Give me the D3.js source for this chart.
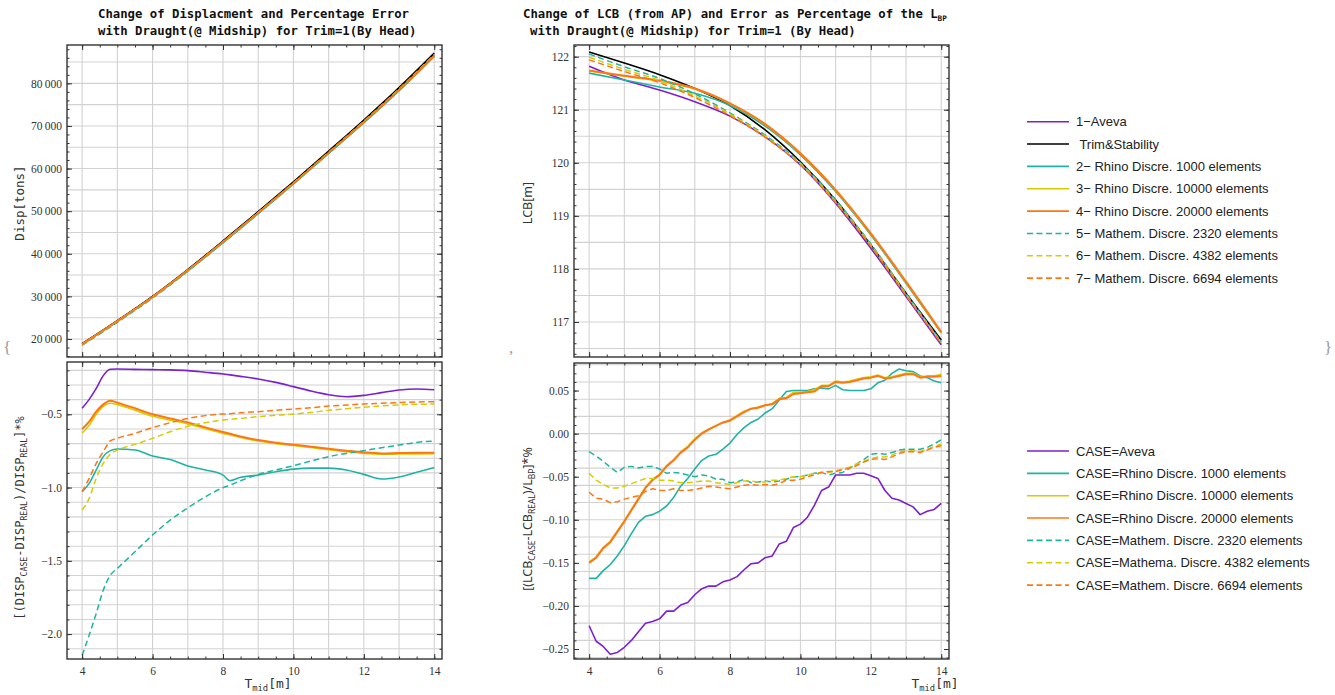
<!DOCTYPE html>
<html>
<head>
<meta charset="utf-8">
<script src="https://cdn.jsdelivr.net/npm/d3@7"></script>
<style>
  body { margin: 0; background: #fff; }
  svg { display: block; }
  .ticklabel { font-family: 'Liberation Serif', 'DejaVu Serif', serif; font-size: 11.5px; }
</style>
</head>
<body>
<svg id="chart" width="1335" height="695"></svg>
<script>
// ---------- Data ----------
// Draught at midship [m] for the displacement error curves
const draughtD = [4, 4.2, 4.4, 4.6, 4.8, 5, 5.5, 6, 6.5, 7, 7.5, 8, 8.2, 8.5, 9, 9.5, 10, 10.5, 11, 11.5, 12, 12.5, 13, 13.5, 14];

// Percentage error of displacement against Trim&Stability
const errDispAveva      = [-0.459, -0.398, -0.323, -0.236, -0.193, -0.191, -0.193, -0.195, -0.197, -0.202, -0.213, -0.225, -0.231, -0.241, -0.259, -0.282, -0.311, -0.341, -0.366, -0.380, -0.371, -0.352, -0.334, -0.327, -0.332];
const errDispRhino1000  = [-1.028, -0.971, -0.880, -0.789, -0.748, -0.737, -0.744, -0.785, -0.808, -0.853, -0.880, -0.915, -0.953, -0.930, -0.915, -0.892, -0.874, -0.867, -0.867, -0.880, -0.910, -0.942, -0.928, -0.896, -0.864];
const errDispRhino10000 = [-0.628, -0.575, -0.500, -0.445, -0.425, -0.434, -0.472, -0.513, -0.540, -0.566, -0.598, -0.630, -0.641, -0.658, -0.682, -0.700, -0.713, -0.727, -0.741, -0.755, -0.767, -0.772, -0.771, -0.770, -0.768];
const errDispRhino20000 = [-0.600, -0.550, -0.482, -0.432, -0.407, -0.420, -0.459, -0.500, -0.528, -0.555, -0.589, -0.621, -0.633, -0.651, -0.676, -0.694, -0.707, -0.721, -0.735, -0.748, -0.760, -0.767, -0.764, -0.762, -0.762];
const errDispMath2320   = [-2.144, -2.007, -1.859, -1.700, -1.598, -1.552, -1.438, -1.324, -1.222, -1.138, -1.063, -1.001, -0.983, -0.953, -0.910, -0.880, -0.851, -0.819, -0.789, -0.767, -0.748, -0.728, -0.710, -0.692, -0.682];
const errDispMath4382   = [-1.154, -1.074, -0.937, -0.835, -0.773, -0.744, -0.705, -0.664, -0.619, -0.582, -0.557, -0.539, -0.534, -0.528, -0.516, -0.507, -0.498, -0.487, -0.473, -0.462, -0.452, -0.443, -0.436, -0.432, -0.430];
const errDispMath6694   = [-1.028, -0.937, -0.835, -0.755, -0.682, -0.664, -0.630, -0.591, -0.557, -0.528, -0.509, -0.498, -0.496, -0.489, -0.482, -0.473, -0.464, -0.455, -0.443, -0.437, -0.430, -0.425, -0.420, -0.416, -0.414];

// Displacement [tons] from Trim&Stability at whole-metre draughts
const draughtM = [4, 5, 6, 7, 8, 9, 10, 11, 12, 13, 14];
const dispReal = [18900, 24300, 30000, 36300, 43000, 49900, 56900, 64100, 71400, 79000, 87100];

// LCB from AP [m]
const lcbReal       = [122.09, 121.88, 121.66, 121.40, 121.08, 120.62, 120.02, 119.30, 118.45, 117.54, 116.66];
const lcbAveva      = [121.82, 121.56, 121.37, 121.15, 120.88, 120.49, 119.96, 119.24, 118.39, 117.48, 116.57];
const lcbRhino1000  = [121.69, 121.56, 121.43, 121.31, 121.08, 120.69, 120.15, 119.46, 118.64, 117.73, 116.79];
const lcbRhino10000 = [121.73, 121.63, 121.54, 121.39, 121.11, 120.72, 120.17, 119.48, 118.66, 117.75, 116.80];
const lcbRhino20000 = [121.74, 121.64, 121.55, 121.40, 121.12, 120.73, 120.18, 119.49, 118.67, 117.76, 116.81];
const lcbMath2320   = [122.05, 121.81, 121.59, 121.30, 120.94, 120.52, 120.00, 119.30, 118.47, 117.54, 116.63];
const lcbMath4382   = [121.99, 121.76, 121.55, 121.26, 120.92, 120.50, 119.98, 119.27, 118.45, 117.52, 116.61];
const lcbMath6694   = [121.94, 121.72, 121.51, 121.23, 120.89, 120.48, 119.96, 119.25, 118.43, 117.50, 116.60];

// LCB error as percentage of L_BP, every 0.2 m of draught
const draughtL = [4, 4.2, 4.4, 4.6, 4.8, 5, 5.2, 5.4, 5.6, 5.8, 6, 6.2, 6.4, 6.6, 6.8, 7, 7.2, 7.4, 7.6, 7.8, 8, 8.2, 8.4, 8.6, 8.8, 9, 9.2, 9.4, 9.6, 9.8, 10, 10.2, 10.4, 10.6, 10.8, 11, 11.2, 11.4, 11.6, 11.8, 12, 12.2, 12.4, 12.6, 12.8, 13, 13.2, 13.4, 13.6, 13.8, 14];
const errLcbAveva = [-0.223, -0.241, -0.247, -0.256, -0.254, -0.248, -0.240, -0.230, -0.220, -0.218, -0.215, -0.206, -0.206, -0.199, -0.196, -0.187, -0.180, -0.177, -0.177, -0.172, -0.170, -0.166, -0.158, -0.151, -0.150, -0.144, -0.142, -0.128, -0.125, -0.109, -0.105, -0.097, -0.083, -0.066, -0.062, -0.048, -0.048, -0.048, -0.046, -0.046, -0.049, -0.052, -0.066, -0.075, -0.077, -0.081, -0.085, -0.094, -0.090, -0.088, -0.081];
const errLcbRhino1000 = [-0.168, -0.168, -0.159, -0.152, -0.142, -0.130, -0.116, -0.103, -0.096, -0.094, -0.090, -0.084, -0.074, -0.061, -0.052, -0.041, -0.031, -0.026, -0.024, -0.018, -0.011, -0.001, 0.007, 0.013, 0.017, 0.024, 0.029, 0.039, 0.049, 0.050, 0.050, 0.050, 0.052, 0.053, 0.052, 0.056, 0.051, 0.050, 0.050, 0.050, 0.052, 0.059, 0.062, 0.070, 0.075, 0.073, 0.072, 0.067, 0.065, 0.061, 0.059];
const errLcbRhino10000 = [-0.149, -0.143, -0.132, -0.125, -0.113, -0.101, -0.088, -0.075, -0.062, -0.053, -0.047, -0.037, -0.030, -0.021, -0.015, -0.006, 0.001, 0.005, 0.009, 0.013, 0.016, 0.021, 0.026, 0.029, 0.031, 0.033, 0.035, 0.041, 0.042, 0.048, 0.048, 0.049, 0.051, 0.056, 0.056, 0.061, 0.060, 0.061, 0.063, 0.065, 0.066, 0.068, 0.065, 0.066, 0.068, 0.070, 0.070, 0.066, 0.067, 0.067, 0.069];
const errLcbRhino20000 = [-0.150, -0.144, -0.133, -0.126, -0.114, -0.102, -0.089, -0.076, -0.063, -0.054, -0.048, -0.038, -0.031, -0.022, -0.016, -0.007, 0.000, 0.005, 0.009, 0.013, 0.015, 0.020, 0.025, 0.029, 0.030, 0.033, 0.034, 0.040, 0.041, 0.046, 0.047, 0.048, 0.049, 0.055, 0.055, 0.060, 0.059, 0.060, 0.062, 0.064, 0.065, 0.067, 0.064, 0.065, 0.067, 0.069, 0.069, 0.065, 0.066, 0.066, 0.067];
const errLcbMath2320 = [-0.021, -0.026, -0.032, -0.039, -0.045, -0.039, -0.038, -0.040, -0.038, -0.038, -0.041, -0.046, -0.045, -0.046, -0.048, -0.050, -0.048, -0.049, -0.053, -0.053, -0.057, -0.056, -0.053, -0.057, -0.056, -0.055, -0.056, -0.055, -0.053, -0.050, -0.050, -0.048, -0.046, -0.045, -0.048, -0.046, -0.045, -0.040, -0.035, -0.030, -0.024, -0.023, -0.024, -0.022, -0.019, -0.018, -0.018, -0.018, -0.016, -0.012, -0.007];
const errLcbMath4382 = [-0.046, -0.054, -0.059, -0.063, -0.063, -0.061, -0.058, -0.055, -0.052, -0.052, -0.054, -0.054, -0.055, -0.057, -0.057, -0.056, -0.055, -0.055, -0.057, -0.058, -0.059, -0.057, -0.055, -0.055, -0.056, -0.056, -0.054, -0.054, -0.052, -0.050, -0.050, -0.048, -0.046, -0.045, -0.045, -0.043, -0.041, -0.039, -0.035, -0.032, -0.029, -0.027, -0.027, -0.025, -0.021, -0.020, -0.020, -0.021, -0.018, -0.015, -0.012];
const errLcbMath6694 = [-0.068, -0.075, -0.076, -0.080, -0.079, -0.076, -0.074, -0.072, -0.067, -0.064, -0.066, -0.066, -0.064, -0.066, -0.066, -0.065, -0.063, -0.061, -0.062, -0.063, -0.064, -0.062, -0.060, -0.059, -0.060, -0.059, -0.060, -0.058, -0.054, -0.054, -0.053, -0.050, -0.048, -0.045, -0.044, -0.044, -0.042, -0.040, -0.037, -0.033, -0.030, -0.029, -0.030, -0.027, -0.023, -0.021, -0.021, -0.022, -0.019, -0.016, -0.014];

// Tick labels
const draughtTicks = [4, 6, 8, 10, 12, 14];
const dispTicks = [20000, 30000, 40000, 50000, 60000, 70000, 80000];
const errDispTicks = [-2.0, -1.5, -1.0, -0.5];
const lcbTicks = [117, 118, 119, 120, 121, 122];
const errLcbTicks = [-0.25, -0.20, -0.15, -0.10, -0.05, 0.00, 0.05];

// Legend texts
const legendTop = ["1\u2212Aveva", " Trim&Stability", "2\u2212 Rhino Discre. 1000 elements", "3\u2212 Rhino Discre. 10000 elements",
  "4\u2212 Rhino Discre. 20000 elements", "5\u2212 Mathem. Discre. 2320 elements", "6\u2212 Mathem. Discre. 4382 elements", "7\u2212 Mathem. Discre. 6694 elements"];
const legendBottom = ["CASE=Aveva", "CASE=Rhino Discre. 1000 elements", "CASE=Rhino Discre. 10000 elements", "CASE=Rhino Discre. 20000 elements",
  "CASE=Mathem. Discre. 2320 elements", "CASE=Mathema. Discre. 4382 elements", "CASE=Mathem. Discre. 6694 elements"];

// ---------- Styles ----------
const C = { purple: "#7b1fd0", black: "#000000", teal: "#1fb3a3", yellow: "#d6cc00", orange: "#ff7614" };
const styleAveva = { color: C.purple, dash: null, width: 1.6 };
const styleReal  = { color: C.black,  dash: null, width: 1.6 };
const styleR1000 = { color: C.teal,   dash: null, width: 1.6 };
const styleR10000 = { color: C.yellow, dash: null, width: 1.6 };
const styleR20000 = { color: C.orange, dash: null, width: 2.0 };
const styleM2320 = { color: C.teal,   dash: "6,3.5", width: 1.5 };
const styleM4382 = { color: C.yellow, dash: "6,3.5", width: 1.5 };
const styleM6694 = { color: C.orange, dash: "6,3.5", width: 1.5 };

const serif = "'Liberation Serif', 'DejaVu Serif', serif";
const mono = "'DejaVu Sans Mono', monospace";
const sans = "'Liberation Sans', Arial, sans-serif";
const labelSans = "'Noto Sans', 'Open Sans', sans-serif";

const svg = d3.select("#chart");
svg.append("rect").attr("width", 1335).attr("height", 695).attr("fill", "#fff");

const xDomain = [3.57, 14.22];
const xGrid = d3.range(4, 15);
const xMinor = d3.range(8, 29).map(k => k / 2);
const minusFmt = p => d => d3.format("." + p + "f")(d).replace("-", "\u2212");
let clipId = 0;

function panel(o) {
  const x = d3.scaleLinear().domain(xDomain).range([o.x0, o.x1]);
  const y = d3.scaleLinear().domain(o.yDomain).range([o.y1, o.y0]);
  const g = svg.append("g");

  // grid
  g.append("g").selectAll("line").data(xGrid).join("line")
    .attr("x1", d => x(d)).attr("x2", d => x(d)).attr("y1", o.y0).attr("y2", o.y1)
    .attr("stroke", "#d2d2d2").attr("stroke-width", 1.1);
  g.append("g").selectAll("line").data(o.yGrid).join("line")
    .attr("x1", o.x0).attr("x2", o.x1).attr("y1", d => y(d)).attr("y2", d => y(d))
    .attr("stroke", "#d2d2d2").attr("stroke-width", 1.1);

  // series
  const id = "clip" + (clipId++);
  svg.append("clipPath").attr("id", id).append("rect")
    .attr("x", o.x0).attr("y", o.y0).attr("width", o.x1 - o.x0).attr("height", o.y1 - o.y0);
  const lines = g.append("g").attr("clip-path", `url(#${id})`);
  const line = d3.line().x(d => x(d[0])).y(d => y(d[1])).curve(o.curve || d3.curveLinear);
  o.series.forEach(s => {
    lines.append("path").datum(s.points).attr("d", line)
      .attr("fill", "none").attr("stroke", s.style.color).attr("stroke-width", s.style.width)
      .attr("stroke-dasharray", s.style.dash).attr("stroke-linejoin", "round");
  });

  // frame ticks (inward) on all four sides
  const tickStyle = sel => {
    sel.select(".domain").remove();
    sel.attr("font-family", null).attr("font-size", null);
    sel.selectAll(".tick line").attr("stroke", "#333").attr("stroke-width", 1);
    sel.selectAll(".tick text").attr("fill", "#333").attr("class", "ticklabel");
  };
  g.append("g").attr("transform", `translate(${o.x0},0)`)
    .call(d3.axisLeft(y).tickValues(o.yMinor).tickSize(-2.5).tickFormat("")).call(tickStyle);
  g.append("g").attr("transform", `translate(${o.x0},0)`)
    .call(d3.axisLeft(y).tickValues(o.yTicks).tickSize(-5).tickPadding(5).tickFormat(o.yFmt)).call(tickStyle);
  g.append("g").attr("transform", `translate(${o.x1},0)`)
    .call(d3.axisRight(y).tickValues(o.yMinor).tickSize(-2.5).tickFormat("")).call(tickStyle);
  g.append("g").attr("transform", `translate(${o.x1},0)`)
    .call(d3.axisRight(y).tickValues(o.yTicks).tickSize(-5).tickFormat("")).call(tickStyle);
  g.append("g").attr("transform", `translate(0,${o.y0})`)
    .call(d3.axisTop(x).tickValues(xMinor).tickSize(-2.5).tickFormat("")).call(tickStyle);
  g.append("g").attr("transform", `translate(0,${o.y0})`)
    .call(d3.axisTop(x).tickValues(draughtTicks).tickSize(-5).tickFormat("")).call(tickStyle);
  g.append("g").attr("transform", `translate(0,${o.y1})`)
    .call(d3.axisBottom(x).tickValues(xMinor).tickSize(-2.5).tickFormat("")).call(tickStyle);
  g.append("g").attr("transform", `translate(0,${o.y1})`)
    .call(d3.axisBottom(x).tickValues(draughtTicks).tickSize(-5).tickPadding(8)
      .tickFormat(o.xLabels ? d3.format("d") : "")).call(tickStyle);

  // frame
  g.append("rect").attr("x", o.x0).attr("y", o.y0).attr("width", o.x1 - o.x0).attr("height", o.y1 - o.y0)
    .attr("fill", "none").attr("stroke", "#333").attr("stroke-width", 1.4);
  return g;
}

const zipPts = (xs, ys) => xs.map((t, i) => [t, ys[i]]);
// case displacement rebuilt from the reference displacement and its percentage error
const dispCase = err => draughtM.map((t, i) => [t, dispReal[i] * (1 + err[draughtD.indexOf(t)] / 100)]);

// ---------- Left column: displacement ----------
panel({
  x0: 67, x1: 442, y0: 45, y1: 357, yDomain: [15770, 89000],
  yGrid: d3.range(20000, 89000, 5000), yTicks: dispTicks, yMinor: d3.range(16000, 89000, 2000),
  yFmt: d => d3.format(",")(d).replace(",", "\u2009"), xLabels: false, curve: d3.curveMonotoneX,
  series: [
    { points: dispCase(errDispAveva), style: styleAveva },
    { points: zipPts(draughtM, dispReal), style: styleReal },
    { points: dispCase(errDispRhino1000), style: styleR1000 },
    { points: dispCase(errDispRhino10000), style: styleR10000 },
    { points: dispCase(errDispRhino20000), style: styleR20000 },
    { points: dispCase(errDispMath2320), style: styleM2320 },
    { points: dispCase(errDispMath4382), style: styleM4382 },
    { points: dispCase(errDispMath6694), style: styleM6694 }
  ]
});

panel({
  x0: 67, x1: 442, y0: 362, y1: 659, yDomain: [-2.17, -0.143],
  yGrid: d3.range(-21, -1).map(k => k / 10), yTicks: errDispTicks, yMinor: d3.range(-21, -1).map(k => k / 10),
  yFmt: minusFmt(1), xLabels: true, curve: d3.curveMonotoneX,
  series: [
    { points: zipPts(draughtD, errDispAveva), style: styleAveva },
    { points: zipPts(draughtD, errDispRhino1000), style: styleR1000 },
    { points: zipPts(draughtD, errDispRhino10000), style: styleR10000 },
    { points: zipPts(draughtD, errDispRhino20000), style: styleR20000 },
    { points: zipPts(draughtD, errDispMath2320), style: styleM2320 },
    { points: zipPts(draughtD, errDispMath4382), style: styleM4382 },
    { points: zipPts(draughtD, errDispMath6694), style: styleM6694 }
  ]
});

// ---------- Right column: LCB ----------
panel({
  x0: 574, x1: 949, y0: 45, y1: 357, yDomain: [116.34, 122.22],
  yGrid: d3.range(233, 245).map(k => k / 2), yTicks: lcbTicks, yMinor: d3.range(582, 612).map(k => k / 5),
  yFmt: d3.format("d"), xLabels: false, curve: d3.curveMonotoneX,
  series: [
    { points: zipPts(draughtM, lcbAveva), style: styleAveva },
    { points: zipPts(draughtM, lcbReal), style: styleReal },
    { points: zipPts(draughtM, lcbRhino1000), style: styleR1000 },
    { points: zipPts(draughtM, lcbRhino10000), style: styleR10000 },
    { points: zipPts(draughtM, lcbRhino20000), style: styleR20000 },
    { points: zipPts(draughtM, lcbMath2320), style: styleM2320 },
    { points: zipPts(draughtM, lcbMath4382), style: styleM4382 },
    { points: zipPts(draughtM, lcbMath6694), style: styleM6694 }
  ]
});

panel({
  x0: 574, x1: 949, y0: 363, y1: 659, yDomain: [-0.2616, 0.082],
  yGrid: d3.range(-13, 5).map(k => k * 0.02), yTicks: errLcbTicks, yMinor: d3.range(-26, 9).map(k => k / 100),
  yFmt: minusFmt(2), xLabels: true, curve: d3.curveLinear,
  series: [
    { points: zipPts(draughtL, errLcbAveva), style: styleAveva },
    { points: zipPts(draughtL, errLcbRhino1000), style: styleR1000 },
    { points: zipPts(draughtL, errLcbRhino10000), style: styleR10000 },
    { points: zipPts(draughtL, errLcbRhino20000), style: styleR20000 },
    { points: zipPts(draughtL, errLcbMath2320), style: styleM2320 },
    { points: zipPts(draughtL, errLcbMath4382), style: styleM4382 },
    { points: zipPts(draughtL, errLcbMath6694), style: styleM6694 }
  ]
});

// ---------- Text with subscripts ----------
// parts: [{t, sub}] ; subscripts are lowered with dy and restored afterwards
function richText(sel, parts, size, subRatio, drop) {
  let lowered = false;
  parts.forEach(p => {
    const s = sel.append("tspan").text(p.t);
    if (p.sub && !lowered) { s.attr("dy", drop).style("font-size", (size * subRatio) + "px"); lowered = true; }
    else if (!p.sub && lowered) { s.attr("dy", -drop); lowered = false; }
  });
}

const title = (x, y, parts) => {
  const t = svg.append("text").attr("x", x).attr("y", y).attr("xml:space", "preserve")
    .style("font-family", mono).style("font-weight", "bold").style("font-size", "12.3px").attr("fill", "#111");
  richText(t, parts, 12.3, 0.62, 2.5);
};
title(98, 18, [{ t: "Change of Displacment and Percentage Error" }]);
title(98, 35, [{ t: "with Draught(@ Midship) for Trim=1(By Head)" }]);
title(523, 18, [{ t: "Change of LCB (from AP) and Error as Percentage of the L" }, { t: "BP", sub: true }]);
title(530, 35, [{ t: "with Draught(@ Midship) for Trim=1 (By Head)" }]);

// ---------- Axis labels ----------
const label = (x, y, rot, family, size, parts) => {
  const t = svg.append("text").attr("transform", `translate(${x},${y}) rotate(${rot})`)
    .attr("text-anchor", "middle").style("font-family", family).style("font-size", size + "px").attr("fill", "#333");
  richText(t, parts, size, 0.68, 3);
};
label(24, 203, -90, mono, 12.5, [{ t: "Disp[tons]" }]);
label(24, 518, -90, mono, 12, [{ t: "[(DISP" }, { t: "CASE", sub: true }, { t: "-DISP" }, { t: "REAL", sub: true },
  { t: ")/DISP" }, { t: "REAL", sub: true }, { t: "]*%" }]);
label(532, 203, -90, labelSans, 12.5, [{ t: "LCB[m]" }]);
label(532, 519, -90, labelSans, 12.5, [{ t: "[(LCB" }, { t: "CASE", sub: true }, { t: "-LCB" }, { t: "REAL", sub: true },
  { t: ")/L" }, { t: "BP", sub: true }, { t: "]*%" }]);
label(268, 688, 0, mono, 13, [{ t: "T" }, { t: "mid", sub: true }, { t: "[m]" }]);
label(935, 688, 0, mono, 13, [{ t: "T" }, { t: "mid", sub: true }, { t: "[m]" }]);

// ---------- Braces around the plot list ----------
const brace = (x, txt) => svg.append("text").attr("x", x).attr("y", 353)
  .style("font-family", serif).style("font-size", "17px").attr("fill", "#999").text(txt);
brace(3, "{");
brace(509, ",");
brace(1324, "}");

// ---------- Legends ----------
function legend(y0, names, styles) {
  const g = svg.append("g");
  names.forEach((n, i) => {
    const y = y0 + i * 22.35;
    g.append("line").attr("x1", 1027).attr("x2", 1069).attr("y1", y).attr("y2", y)
      .attr("stroke", styles[i].color).attr("stroke-width", 1.6).attr("stroke-dasharray", styles[i].dash);
    g.append("text").attr("x", 1076).attr("y", y + 4.5).style("font-family", sans).style("font-size", "13px")
      .attr("fill", "#222").attr("xml:space", "preserve").text(n);
  });
}
legend(121.7, legendTop, [styleAveva, styleReal, styleR1000, styleR10000, styleR20000, styleM2320, styleM4382, styleM6694]);
legend(451, legendBottom, [styleAveva, styleR1000, styleR10000, styleR20000, styleM2320, styleM4382, styleM6694]);
</script>
</body>
</html>
